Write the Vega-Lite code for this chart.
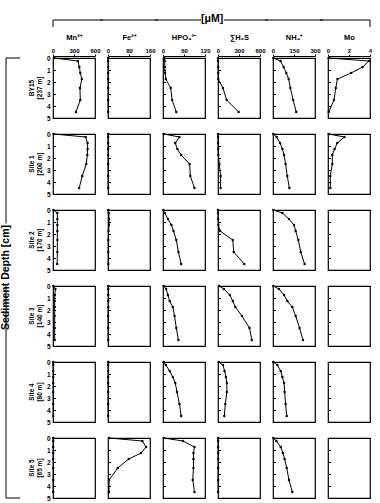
{
  "$schema": "https://vega.github.io/schema/vega-lite/v6.json",
  "padding": {"left": 0, "top": 14, "right": 0, "bottom": 0},
  "background": "white",
  "title": {"text": "[μM]", "fontSize": 10.5, "fontWeight": "bold", "font": "Liberation Sans", "anchor": "middle", "dx": 26, "dy": 6, "offset": 0},
  "datasets": {
    "core": [
      {"site": "BY15|[237 m]", "depth": 0, "Mn": 15, "Fe": 0.5, "HPO4": 3, "H2S": 0, "NH4": 2, "Mo": 0.06},
      {"site": "BY15|[237 m]", "depth": 0.25, "Mn": 356, "Fe": 0.5, "HPO4": 5, "H2S": 2, "NH4": 54, "Mo": 3.9},
      {"site": "BY15|[237 m]", "depth": 0.75, "Mn": 376, "Fe": 0.5, "HPO4": 5, "H2S": 2, "NH4": 76, "Mo": 3.3},
      {"site": "BY15|[237 m]", "depth": 1.25, "Mn": 390, "Fe": 0.5, "HPO4": 6, "H2S": 3, "NH4": 95, "Mo": 2.2},
      {"site": "BY15|[237 m]", "depth": 1.75, "Mn": 412, "Fe": 0.5, "HPO4": 8, "H2S": 4, "NH4": 112, "Mo": 0.9},
      {"site": "BY15|[237 m]", "depth": 2.5, "Mn": 385, "Fe": 0.5, "HPO4": 22, "H2S": 71, "NH4": 124, "Mo": 0.74},
      {"site": "BY15|[237 m]", "depth": 3.5, "Mn": 390, "Fe": 0.5, "HPO4": 26, "H2S": 124, "NH4": 144, "Mo": 0.57},
      {"site": "BY15|[237 m]", "depth": 4.5, "Mn": 327, "Fe": 0.5, "HPO4": 38, "H2S": 295, "NH4": 166, "Mo": 0.07},
      {"site": "Site 1|[200 m]", "depth": 0, "Mn": 10, "Fe": 0.5, "HPO4": 2, "H2S": 0, "NH4": 2, "Mo": 0.06},
      {"site": "Site 1|[200 m]", "depth": 0.25, "Mn": 466, "Fe": 0.5, "HPO4": 47, "H2S": 1, "NH4": 26, "Mo": 1.57},
      {"site": "Site 1|[200 m]", "depth": 0.75, "Mn": 494, "Fe": 0.5, "HPO4": 35, "H2S": 1, "NH4": 50, "Mo": 0.88},
      {"site": "Site 1|[200 m]", "depth": 1.25, "Mn": 494, "Fe": 0.5, "HPO4": 41, "H2S": 2, "NH4": 67, "Mo": 0.63},
      {"site": "Site 1|[200 m]", "depth": 1.75, "Mn": 490, "Fe": 0.5, "HPO4": 52, "H2S": 5, "NH4": 79, "Mo": 0.41},
      {"site": "Site 1|[200 m]", "depth": 2.5, "Mn": 475, "Fe": 0.5, "HPO4": 76, "H2S": 19, "NH4": 90, "Mo": 0.41},
      {"site": "Site 1|[200 m]", "depth": 3.5, "Mn": 418, "Fe": 0.5, "HPO4": 78, "H2S": 37, "NH4": 102, "Mo": 0.22},
      {"site": "Site 1|[200 m]", "depth": 4.5, "Mn": 374, "Fe": 0.5, "HPO4": 90, "H2S": 37, "NH4": 117, "Mo": 0.22},
      {"site": "Site 2|[170 m]", "depth": 0, "Mn": 5, "Fe": 1, "HPO4": 1, "H2S": 0, "NH4": 2, "Mo": null},
      {"site": "Site 2|[170 m]", "depth": 0.25, "Mn": 62, "Fe": 3, "HPO4": 5, "H2S": 0, "NH4": 67, "Mo": null},
      {"site": "Site 2|[170 m]", "depth": 0.75, "Mn": 62, "Fe": 4, "HPO4": 14, "H2S": 2, "NH4": 114, "Mo": null},
      {"site": "Site 2|[170 m]", "depth": 1.25, "Mn": 62, "Fe": 4, "HPO4": 24, "H2S": 5, "NH4": 150, "Mo": null},
      {"site": "Site 2|[170 m]", "depth": 1.75, "Mn": 62, "Fe": 2, "HPO4": 30, "H2S": 30, "NH4": 162, "Mo": null},
      {"site": "Site 2|[170 m]", "depth": 2.5, "Mn": 62, "Fe": 1, "HPO4": 38, "H2S": 211, "NH4": 181, "Mo": null},
      {"site": "Site 2|[170 m]", "depth": 3.5, "Mn": 62, "Fe": 1, "HPO4": 44, "H2S": 225, "NH4": 198, "Mo": null},
      {"site": "Site 2|[170 m]", "depth": 4.5, "Mn": 60, "Fe": 1, "HPO4": 52, "H2S": 375, "NH4": 226, "Mo": null},
      {"site": "Site 3|[140 m]", "depth": 0, "Mn": 5, "Fe": 1, "HPO4": 2, "H2S": 14, "NH4": 2, "Mo": null},
      {"site": "Site 3|[140 m]", "depth": 0.25, "Mn": 34, "Fe": 1, "HPO4": 9, "H2S": 84, "NH4": 43, "Mo": null},
      {"site": "Site 3|[140 m]", "depth": 0.75, "Mn": 26, "Fe": 1, "HPO4": 14, "H2S": 169, "NH4": 79, "Mo": null},
      {"site": "Site 3|[140 m]", "depth": 1.25, "Mn": 24, "Fe": 1, "HPO4": 19, "H2S": 211, "NH4": 102, "Mo": null},
      {"site": "Site 3|[140 m]", "depth": 1.75, "Mn": 24, "Fe": 1, "HPO4": 28, "H2S": 248, "NH4": 138, "Mo": null},
      {"site": "Site 3|[140 m]", "depth": 2.5, "Mn": 24, "Fe": 0.5, "HPO4": 33, "H2S": 342, "NH4": 162, "Mo": null},
      {"site": "Site 3|[140 m]", "depth": 3.5, "Mn": 24, "Fe": 0.5, "HPO4": 38, "H2S": 450, "NH4": 190, "Mo": null},
      {"site": "Site 3|[140 m]", "depth": 4.5, "Mn": 24, "Fe": 0.5, "HPO4": 44, "H2S": 483, "NH4": 214, "Mo": null},
      {"site": "Site 4|[80 m]", "depth": 0, "Mn": 3, "Fe": 0.5, "HPO4": 2, "H2S": 9, "NH4": 2, "Mo": null},
      {"site": "Site 4|[80 m]", "depth": 0.25, "Mn": 3, "Fe": 0.5, "HPO4": 8, "H2S": 71, "NH4": 31, "Mo": null},
      {"site": "Site 4|[80 m]", "depth": 0.75, "Mn": 3, "Fe": 0.5, "HPO4": 19, "H2S": 94, "NH4": 55, "Mo": null},
      {"site": "Site 4|[80 m]", "depth": 1.25, "Mn": 3, "Fe": 0.5, "HPO4": 28, "H2S": 113, "NH4": 67, "Mo": null},
      {"site": "Site 4|[80 m]", "depth": 1.75, "Mn": 3, "Fe": 0.5, "HPO4": 35, "H2S": 127, "NH4": 79, "Mo": null},
      {"site": "Site 4|[80 m]", "depth": 2.5, "Mn": 3, "Fe": 0.5, "HPO4": 40, "H2S": 127, "NH4": 83, "Mo": null},
      {"site": "Site 4|[80 m]", "depth": 3.5, "Mn": 3, "Fe": 0.5, "HPO4": 47, "H2S": 104, "NH4": 90, "Mo": null},
      {"site": "Site 4|[80 m]", "depth": 4.5, "Mn": 3, "Fe": 0.5, "HPO4": 52, "H2S": 90, "NH4": 98, "Mo": null},
      {"site": "Site 5|[65 m]", "depth": 0, "Mn": 3, "Fe": 4, "HPO4": 2, "H2S": 2, "NH4": 2, "Mo": null},
      {"site": "Site 5|[65 m]", "depth": 0.25, "Mn": 3, "Fe": 131, "HPO4": 57, "H2S": 2, "NH4": 24, "Mo": null},
      {"site": "Site 5|[65 m]", "depth": 0.75, "Mn": 3, "Fe": 145, "HPO4": 90, "H2S": 2, "NH4": 55, "Mo": null},
      {"site": "Site 5|[65 m]", "depth": 1.25, "Mn": 3, "Fe": 126, "HPO4": 87, "H2S": 2, "NH4": 71, "Mo": null},
      {"site": "Site 5|[65 m]", "depth": 1.75, "Mn": 3, "Fe": 79, "HPO4": 87, "H2S": 2, "NH4": 83, "Mo": null},
      {"site": "Site 5|[65 m]", "depth": 2.5, "Mn": 3, "Fe": 37, "HPO4": 87, "H2S": 2, "NH4": 98, "Mo": null},
      {"site": "Site 5|[65 m]", "depth": 3.5, "Mn": 3, "Fe": 4, "HPO4": 85, "H2S": 2, "NH4": 114, "Mo": null},
      {"site": "Site 5|[65 m]", "depth": 4.5, "Mn": 3, "Fe": 4, "HPO4": 90, "H2S": 2, "NH4": 138, "Mo": null}
    ]
  },
  "data": {"name": "core"},
  "spacing": -7,
  "hconcat": [
    {
      "facet": {"row": {"field": "site", "type": "nominal", "sort": ["BY15|[237 m]", "Site 1|[200 m]", "Site 2|[170 m]", "Site 3|[140 m]", "Site 4|[80 m]", "Site 5|[65 m]"],
        "header": {"title": null, "labelExpr": "split(datum.value, '|')", "labelFontSize": 6.5, "labelFontWeight": "bold", "labelFont": "Liberation Sans", "labelPadding": 3, "labelLineHeight": 8}}},
      "spacing": {"row": 16},
      "bounds": "flush",
      "spec": {
        "width": 42, "height": 60,
        "encoding": {
          "y": {"field": "depth", "type": "quantitative", "scale": {"domain": [0, 5], "reverse": true, "nice": false},
            "axis": {"values": [0, 1, 2, 3, 4, 5], "title": null, "domain": false, "ticks": true, "tickSize": -2.5, "labelPadding": 5.5, "labelFontSize": 6.5, "labelFontWeight": "bold", "offset": 0}},
          "x": {"field": "Mn", "type": "quantitative", "scale": {"domain": [0, 600], "nice": false},
            "axis": {"orient": "top", "values": [0, 300, 600], "title": "Mn²⁺"}}
        },
        "layer": [
          {"mark": {"type": "line", "color": "black", "strokeWidth": 1}, "encoding": {"order": {"field": "depth", "type": "quantitative"}}},
          {"mark": {"type": "point", "filled": true, "color": "black", "size": 6, "opacity": 1}},
          {"transform": [{"filter": "datum.depth == 0 && datum.site == 'BY15|[237 m]'"}],
           "mark": {"type": "rule", "color": "black", "strokeWidth": 1},
           "encoding": {"x": {"datum": 0}, "x2": {"datum": 714.3}, "y": {"datum": -3.167}}},
          {"transform": [{"filter": "datum.depth == 0 && datum.site == 'BY15|[237 m]'"}],
           "mark": {"type": "rule", "color": "black", "strokeWidth": 1},
           "encoding": {"x": {"datum": 0}, "y": {"datum": -3.167}, "y2": {"datum": -2.583}}},
          {"transform": [{"filter": "datum.depth == 0 && datum.site != 'Site 5|[65 m]'"}],
           "mark": {"type": "rule", "color": "black", "strokeWidth": 1},
           "encoding": {"x": {"datum": -671}, "y": {"datum": 0}, "y2": {"datum": 6.333}}},
          {"transform": [{"filter": "datum.depth == 0 && datum.site == 'Site 5|[65 m]'"}],
           "mark": {"type": "rule", "color": "black", "strokeWidth": 1},
           "encoding": {"x": {"datum": -671}, "y": {"datum": 0}, "y2": {"datum": 5}}},
          {"transform": [{"filter": "datum.depth == 0 && datum.site == 'BY15|[237 m]'"}],
           "mark": {"type": "rule", "color": "black", "strokeWidth": 1},
           "encoding": {"x": {"datum": -671}, "x2": {"datum": -471}, "y": {"datum": 0}}},
          {"transform": [{"filter": "datum.depth == 0 && datum.site == 'Site 5|[65 m]'"}],
           "mark": {"type": "rule", "color": "black", "strokeWidth": 1},
           "encoding": {"x": {"datum": -671}, "x2": {"datum": -471}, "y": {"datum": 5}}},
          {"transform": [{"filter": "datum.depth == 0 && datum.site == 'Site 2|[170 m]'"}],
           "mark": {"type": "text", "text": "Sediment Depth [cm]", "angle": 270, "align": "center", "baseline": "middle", "fontSize": 10.5, "fontWeight": "bold", "font": "Liberation Sans", "color": "white", "stroke": "white", "strokeWidth": 4},
           "encoding": {"x": {"datum": -671}, "y": {"datum": 5.625}}},
          {"transform": [{"filter": "datum.depth == 0 && datum.site == 'Site 2|[170 m]'"}],
           "mark": {"type": "text", "text": "Sediment Depth [cm]", "angle": 270, "align": "center", "baseline": "middle", "fontSize": 10.5, "fontWeight": "bold", "font": "Liberation Sans", "color": "black"},
           "encoding": {"x": {"datum": -671}, "y": {"datum": 5.625}}}
        ]
      }
    },
    {
      "facet": {"row": {"field": "site", "type": "nominal", "sort": ["BY15|[237 m]", "Site 1|[200 m]", "Site 2|[170 m]", "Site 3|[140 m]", "Site 4|[80 m]", "Site 5|[65 m]"], "header": {"labels": false, "title": null}}},
      "spacing": {"row": 16},
      "bounds": "flush",
      "spec": {
        "width": 42, "height": 60,
        "encoding": {
          "y": {"field": "depth", "type": "quantitative", "scale": {"domain": [0, 5], "reverse": true, "nice": false},
            "axis": {"values": [0, 1, 2, 3, 4, 5], "title": null, "domain": false, "labels": false, "ticks": true, "tickSize": -2.5, "offset": 0}},
          "x": {"field": "Fe", "type": "quantitative", "scale": {"domain": [0, 160], "nice": false},
            "axis": {"orient": "top", "values": [0, 80, 160], "title": "Fe²⁺"}}
        },
        "layer": [
          {"mark": {"type": "line", "color": "black", "strokeWidth": 1}, "encoding": {"order": {"field": "depth", "type": "quantitative"}}},
          {"mark": {"type": "point", "filled": true, "color": "black", "size": 6, "opacity": 1}},
          {"transform": [{"filter": "datum.depth == 0 && datum.site == 'BY15|[237 m]'"}],
           "mark": {"type": "rule", "color": "black", "strokeWidth": 1},
           "encoding": {"x": {"datum": -30.48}, "x2": {"datum": 190.48}, "y": {"datum": -3.167}}}
        ]
      }
    },
    {
      "facet": {"row": {"field": "site", "type": "nominal", "sort": ["BY15|[237 m]", "Site 1|[200 m]", "Site 2|[170 m]", "Site 3|[140 m]", "Site 4|[80 m]", "Site 5|[65 m]"], "header": {"labels": false, "title": null}}},
      "spacing": {"row": 16},
      "bounds": "flush",
      "spec": {
        "width": 42, "height": 60,
        "encoding": {
          "y": {"field": "depth", "type": "quantitative", "scale": {"domain": [0, 5], "reverse": true, "nice": false},
            "axis": {"values": [0, 1, 2, 3, 4, 5], "title": null, "domain": false, "labels": false, "ticks": true, "tickSize": -2.5, "offset": 0}},
          "x": {"field": "HPO4", "type": "quantitative", "scale": {"domain": [0, 120], "nice": false},
            "axis": {"orient": "top", "values": [0, 60, 120], "title": "HPO₄²⁻"}}
        },
        "layer": [
          {"mark": {"type": "line", "color": "black", "strokeWidth": 1}, "encoding": {"order": {"field": "depth", "type": "quantitative"}}},
          {"mark": {"type": "point", "filled": true, "color": "black", "size": 6, "opacity": 1}},
          {"transform": [{"filter": "datum.depth == 0 && datum.site == 'BY15|[237 m]'"}],
           "mark": {"type": "rule", "color": "black", "strokeWidth": 1},
           "encoding": {"x": {"datum": -22.86}, "x2": {"datum": 108.6}, "y": {"datum": -3.167}}},
          {"transform": [{"filter": "datum.depth == 0 && datum.site == 'BY15|[237 m]'"}],
           "mark": {"type": "rule", "color": "white", "strokeWidth": 1},
           "encoding": {"x": {"datum": 108.6}, "x2": {"datum": 142.86}, "y": {"datum": -3.167}}}
        ]
      }
    },
    {
      "facet": {"row": {"field": "site", "type": "nominal", "sort": ["BY15|[237 m]", "Site 1|[200 m]", "Site 2|[170 m]", "Site 3|[140 m]", "Site 4|[80 m]", "Site 5|[65 m]"], "header": {"labels": false, "title": null}}},
      "spacing": {"row": 16},
      "bounds": "flush",
      "spec": {
        "width": 42, "height": 60,
        "encoding": {
          "y": {"field": "depth", "type": "quantitative", "scale": {"domain": [0, 5], "reverse": true, "nice": false},
            "axis": {"values": [0, 1, 2, 3, 4, 5], "title": null, "domain": false, "labels": false, "ticks": true, "tickSize": -2.5, "offset": 0}},
          "x": {"field": "H2S", "type": "quantitative", "scale": {"domain": [0, 600], "nice": false},
            "axis": {"orient": "top", "values": [0, 300, 600], "title": "∑H₂S"}}
        },
        "layer": [
          {"mark": {"type": "line", "color": "black", "strokeWidth": 1}, "encoding": {"order": {"field": "depth", "type": "quantitative"}}},
          {"mark": {"type": "point", "filled": true, "color": "black", "size": 6, "opacity": 1}},
          {"transform": [{"filter": "datum.depth == 0 && datum.site == 'BY15|[237 m]'"}],
           "mark": {"type": "rule", "color": "white", "strokeWidth": 1},
           "encoding": {"x": {"datum": -114.3}, "x2": {"datum": 85.7}, "y": {"datum": -3.167}}},
          {"transform": [{"filter": "datum.depth == 0 && datum.site == 'BY15|[237 m]'"}],
           "mark": {"type": "rule", "color": "black", "strokeWidth": 1},
           "encoding": {"x": {"datum": 85.7}, "x2": {"datum": 714.3}, "y": {"datum": -3.167}}}
        ]
      }
    },
    {
      "facet": {"row": {"field": "site", "type": "nominal", "sort": ["BY15|[237 m]", "Site 1|[200 m]", "Site 2|[170 m]", "Site 3|[140 m]", "Site 4|[80 m]", "Site 5|[65 m]"], "header": {"labels": false, "title": null}}},
      "spacing": {"row": 16},
      "bounds": "flush",
      "spec": {
        "width": 42, "height": 60,
        "encoding": {
          "y": {"field": "depth", "type": "quantitative", "scale": {"domain": [0, 5], "reverse": true, "nice": false},
            "axis": {"values": [0, 1, 2, 3, 4, 5], "title": null, "domain": false, "labels": false, "ticks": true, "tickSize": -2.5, "offset": 0}},
          "x": {"field": "NH4", "type": "quantitative", "scale": {"domain": [0, 300], "nice": false},
            "axis": {"orient": "top", "values": [0, 150, 300], "title": "NH₄⁺"}}
        },
        "layer": [
          {"mark": {"type": "line", "color": "black", "strokeWidth": 1}, "encoding": {"order": {"field": "depth", "type": "quantitative"}}},
          {"mark": {"type": "point", "filled": true, "color": "black", "size": 6, "opacity": 1}},
          {"transform": [{"filter": "datum.depth == 0 && datum.site == 'BY15|[237 m]'"}],
           "mark": {"type": "rule", "color": "black", "strokeWidth": 1},
           "encoding": {"x": {"datum": -57.14}, "x2": {"datum": 357.14}, "y": {"datum": -3.167}}}
        ]
      }
    },
    {
      "facet": {"row": {"field": "site", "type": "nominal", "sort": ["BY15|[237 m]", "Site 1|[200 m]", "Site 2|[170 m]", "Site 3|[140 m]", "Site 4|[80 m]", "Site 5|[65 m]"], "header": {"labels": false, "title": null}}},
      "spacing": {"row": 16},
      "bounds": "flush",
      "spec": {
        "width": 42, "height": 60,
        "encoding": {
          "y": {"field": "depth", "type": "quantitative", "scale": {"domain": [0, 5], "reverse": true, "nice": false},
            "axis": {"values": [0, 1, 2, 3, 4, 5], "title": null, "domain": false, "labels": false, "ticks": true, "tickSize": -2.5, "offset": 0}},
          "x": {"field": "Mo", "type": "quantitative", "scale": {"domain": [0, 4], "nice": false},
            "axis": {"orient": "top", "values": [0, 2, 4], "title": "Mo"}}
        },
        "layer": [
          {"mark": {"type": "line", "color": "black", "strokeWidth": 1}, "encoding": {"order": {"field": "depth", "type": "quantitative"}}},
          {"mark": {"type": "point", "filled": true, "color": "black", "size": 6, "opacity": 1}},
          {"transform": [{"filter": "datum.depth == 0 && datum.site == 'BY15|[237 m]'"}],
           "mark": {"type": "rule", "color": "black", "strokeWidth": 1},
           "encoding": {"x": {"datum": -0.762}, "x2": {"datum": 4}, "y": {"datum": -3.167}}},
          {"transform": [{"filter": "datum.depth == 0 && datum.site == 'BY15|[237 m]'"}],
           "mark": {"type": "rule", "color": "black", "strokeWidth": 1},
           "encoding": {"x": {"datum": 4}, "y": {"datum": -3.167}, "y2": {"datum": -2.583}}}
        ]
      }
    }
  ],
  "config": {
    "font": "Liberation Sans",
    "view": {"stroke": "black", "strokeWidth": 1.2},
    "axis": {"labelFont": "Liberation Sans", "labelFontSize": 6, "labelFontWeight": "bold", "labelColor": "black", "tickColor": "black", "domainColor": "black",
      "titleFont": "Liberation Sans", "titleFontSize": 7.5, "titleFontWeight": "bold", "titleColor": "black", "grid": false, "tickSize": 2, "labelPadding": 1, "titlePadding": 6, "offset": 2, "labelFlush": false, "labelOverlap": false}
  }
}
